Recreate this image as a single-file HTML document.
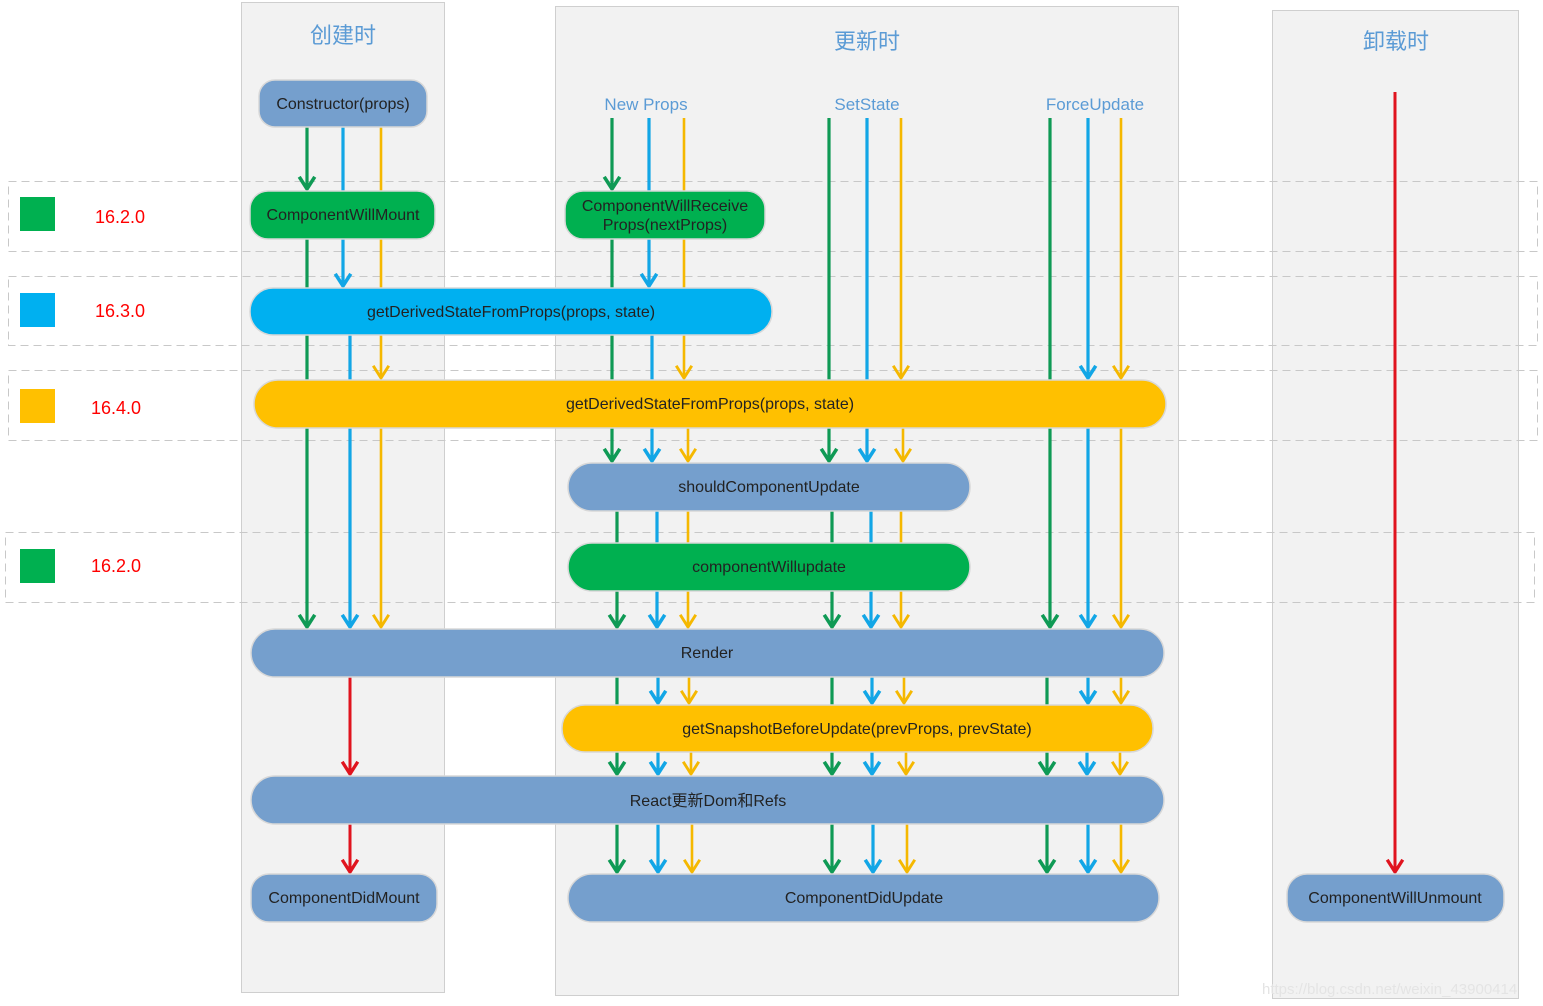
<!DOCTYPE html>
<html><head><meta charset="utf-8"><style>
html,body{margin:0;padding:0;background:#fff}
svg{display:block;font-family:"Liberation Sans","Noto Sans CJK SC",sans-serif}
</style></head><body>
<svg width="1543" height="1006" viewBox="0 0 1543 1006" xmlns="http://www.w3.org/2000/svg">
<defs>
<marker id="g" markerUnits="userSpaceOnUse" markerWidth="20" markerHeight="20" viewBox="-2 -2 16 18" refX="11" refY="7" orient="auto"><path d="M0,0 L11,7 L0,14" fill="none" stroke="#0f9a55" stroke-width="3.2"/></marker>
<marker id="b" markerUnits="userSpaceOnUse" markerWidth="20" markerHeight="20" viewBox="-2 -2 16 18" refX="11" refY="7" orient="auto"><path d="M0,0 L11,7 L0,14" fill="none" stroke="#12a6e6" stroke-width="3.2"/></marker>
<marker id="y" markerUnits="userSpaceOnUse" markerWidth="20" markerHeight="20" viewBox="-2 -2 16 18" refX="11" refY="7" orient="auto"><path d="M0,0 L11,7 L0,14" fill="none" stroke="#f5b800" stroke-width="2.6"/></marker>
<marker id="r" markerUnits="userSpaceOnUse" markerWidth="20" markerHeight="20" viewBox="-2 -2 16 18" refX="11" refY="7" orient="auto"><path d="M0,0 L11,7 L0,14" fill="none" stroke="#e0141e" stroke-width="3"/></marker>
</defs>
<!-- panels -->
<rect x="241.5" y="2.5" width="203" height="990" fill="#f2f2f2" stroke="#cfcfcf"/>
<rect x="555.5" y="6.5" width="623" height="989" fill="#f2f2f2" stroke="#cfcfcf"/>
<rect x="1272.5" y="10.5" width="246" height="988" fill="#f2f2f2" stroke="#cfcfcf"/>
<!-- dashed bands -->
<g fill="none" stroke="#c8c8c8" stroke-dasharray="8,5">
<rect x="8.5" y="181.5" width="1529" height="70"/>
<rect x="8.5" y="276.5" width="1529" height="69"/>
<rect x="8.5" y="370.5" width="1529" height="70"/>
<rect x="5.5" y="532.5" width="1529" height="70"/>
</g>
<!-- legends -->
<rect x="20" y="197" width="35" height="34" fill="#00b050"/>
<rect x="20" y="293" width="35" height="34" fill="#00b0f0"/>
<rect x="20" y="389" width="35" height="34" fill="#ffc000"/>
<rect x="20" y="549" width="35" height="34" fill="#00b050"/>
<g fill="#ff0000" font-size="18">
<text x="95" y="223">16.2.0</text>
<text x="95" y="317">16.3.0</text>
<text x="91" y="414">16.4.0</text>
<text x="91" y="572">16.2.0</text>
</g>
<!-- headers -->
<g fill="#5b9bd5" text-anchor="middle">
<text x="343" y="43" font-size="22">创建时</text>
<text x="867" y="49" font-size="22">更新时</text>
<text x="1396" y="49" font-size="22">卸载时</text>
<text x="646" y="110" font-size="17">New Props</text>
<text x="867" y="110" font-size="17">SetState</text>
<text x="1095" y="110" font-size="17">ForceUpdate</text>
</g>
<!-- arrows -->
<g stroke-width="3.2" fill="none">
<g stroke="#0f9a55">
<line x1="307" y1="127" x2="307" y2="189" marker-end="url(#g)"/>
<line x1="307" y1="239" x2="307" y2="627" marker-end="url(#g)"/>
<line x1="612" y1="118" x2="612" y2="189" marker-end="url(#g)"/>
<line x1="612" y1="239" x2="612" y2="461" marker-end="url(#g)"/>
<line x1="617" y1="511" x2="617" y2="627" marker-end="url(#g)"/>
<line x1="617" y1="677" x2="617" y2="774" marker-end="url(#g)"/>
<line x1="617" y1="824" x2="617" y2="872" marker-end="url(#g)"/>
<line x1="829" y1="118" x2="829" y2="461" marker-end="url(#g)"/>
<line x1="832" y1="511" x2="832" y2="627" marker-end="url(#g)"/>
<line x1="832" y1="677" x2="832" y2="774" marker-end="url(#g)"/>
<line x1="832" y1="824" x2="832" y2="872" marker-end="url(#g)"/>
<line x1="1050" y1="118" x2="1050" y2="627" marker-end="url(#g)"/>
<line x1="1047" y1="677" x2="1047" y2="774" marker-end="url(#g)"/>
<line x1="1047" y1="824" x2="1047" y2="872" marker-end="url(#g)"/>
</g>
<g stroke="#12a6e6">
<line x1="343" y1="127" x2="343" y2="286" marker-end="url(#b)"/>
<line x1="350" y1="335" x2="350" y2="627" marker-end="url(#b)"/>
<line x1="649" y1="118" x2="649" y2="286" marker-end="url(#b)"/>
<line x1="652" y1="335" x2="652" y2="461" marker-end="url(#b)"/>
<line x1="657" y1="511" x2="657" y2="627" marker-end="url(#b)"/>
<line x1="658" y1="677" x2="658" y2="703" marker-end="url(#b)"/>
<line x1="658" y1="752" x2="658" y2="774" marker-end="url(#b)"/>
<line x1="658" y1="824" x2="658" y2="872" marker-end="url(#b)"/>
<line x1="867" y1="118" x2="867" y2="461" marker-end="url(#b)"/>
<line x1="871" y1="511" x2="871" y2="627" marker-end="url(#b)"/>
<line x1="872" y1="677" x2="872" y2="703" marker-end="url(#b)"/>
<line x1="872" y1="752" x2="872" y2="774" marker-end="url(#b)"/>
<line x1="873" y1="824" x2="873" y2="872" marker-end="url(#b)"/>
<line x1="1088" y1="118" x2="1088" y2="378" marker-end="url(#b)"/>
<line x1="1088" y1="428" x2="1088" y2="627" marker-end="url(#b)"/>
<line x1="1088" y1="677" x2="1088" y2="703" marker-end="url(#b)"/>
<line x1="1087" y1="752" x2="1087" y2="774" marker-end="url(#b)"/>
<line x1="1088" y1="824" x2="1088" y2="872" marker-end="url(#b)"/>
</g>
<g stroke="#f5b800" stroke-width="2.6">
<line x1="381" y1="127" x2="381" y2="378" marker-end="url(#y)"/>
<line x1="381" y1="428" x2="381" y2="627" marker-end="url(#y)"/>
<line x1="684" y1="118" x2="684" y2="378" marker-end="url(#y)"/>
<line x1="688" y1="428" x2="688" y2="461" marker-end="url(#y)"/>
<line x1="688" y1="511" x2="688" y2="627" marker-end="url(#y)"/>
<line x1="689" y1="677" x2="689" y2="703" marker-end="url(#y)"/>
<line x1="691" y1="752" x2="691" y2="774" marker-end="url(#y)"/>
<line x1="692" y1="824" x2="692" y2="872" marker-end="url(#y)"/>
<line x1="901" y1="118" x2="901" y2="378" marker-end="url(#y)"/>
<line x1="903" y1="428" x2="903" y2="461" marker-end="url(#y)"/>
<line x1="901" y1="511" x2="901" y2="627" marker-end="url(#y)"/>
<line x1="904" y1="677" x2="904" y2="703" marker-end="url(#y)"/>
<line x1="906" y1="752" x2="906" y2="774" marker-end="url(#y)"/>
<line x1="907" y1="824" x2="907" y2="872" marker-end="url(#y)"/>
<line x1="1121" y1="118" x2="1121" y2="378" marker-end="url(#y)"/>
<line x1="1121" y1="428" x2="1121" y2="627" marker-end="url(#y)"/>
<line x1="1121" y1="677" x2="1121" y2="703" marker-end="url(#y)"/>
<line x1="1120" y1="752" x2="1120" y2="774" marker-end="url(#y)"/>
<line x1="1121" y1="824" x2="1121" y2="872" marker-end="url(#y)"/>
</g>
<g stroke="#e0141e" stroke-width="3">
<line x1="350" y1="677" x2="350" y2="774" marker-end="url(#r)"/>
<line x1="350" y1="824" x2="350" y2="872" marker-end="url(#r)"/>
<line x1="1395" y1="92" x2="1395" y2="872" marker-end="url(#r)"/>
</g>
</g>
<!-- nodes -->
<g stroke="#d8d8d8" stroke-width="1.5">
<rect x="259" y="80" width="168" height="47" rx="16" fill="#759fcd"/>
<rect x="250" y="191" width="185" height="48" rx="18" fill="#00b050"/>
<rect x="565" y="191" width="200" height="48" rx="18" fill="#00b050"/>
<rect x="250" y="288" width="522" height="47" rx="23" fill="#00b0f0"/>
<rect x="254" y="380" width="912" height="48" rx="24" fill="#ffc000"/>
<rect x="568" y="463" width="402" height="48" rx="24" fill="#759fcd"/>
<rect x="568" y="543" width="402" height="48" rx="24" fill="#00b050"/>
<rect x="251" y="629" width="913" height="48" rx="24" fill="#759fcd"/>
<rect x="562" y="705" width="591" height="47" rx="23" fill="#ffc000"/>
<rect x="251" y="776" width="913" height="48" rx="24" fill="#759fcd"/>
<rect x="251" y="874" width="186" height="48" rx="18" fill="#759fcd"/>
<rect x="568" y="874" width="591" height="48" rx="24" fill="#759fcd"/>
<rect x="1287" y="874" width="217" height="48" rx="20" fill="#759fcd"/>
</g>
<g fill="#222" font-size="16" text-anchor="middle">
<text x="343" y="109">Constructor(props)</text>
<text x="343" y="220">ComponentWillMount</text>
<text x="665" y="211">ComponentWillReceive</text>
<text x="665" y="230">Props(nextProps)</text>
<text x="511" y="317">getDerivedStateFromProps(props, state)</text>
<text x="710" y="409">getDerivedStateFromProps(props, state)</text>
<text x="769" y="492">shouldComponentUpdate</text>
<text x="769" y="572">componentWillupdate</text>
<text x="707" y="658">Render</text>
<text x="857" y="734">getSnapshotBeforeUpdate(prevProps, prevState)</text>
<text x="708" y="806">React更新Dom和Refs</text>
<text x="344" y="903">ComponentDidMount</text>
<text x="864" y="903">ComponentDidUpdate</text>
<text x="1395" y="903">ComponentWillUnmount</text>
</g>
<text x="1262" y="994" fill="#e4e4e4" font-size="15">https://blog.csdn.net/weixin_43900414</text>
</svg>
</body></html>
